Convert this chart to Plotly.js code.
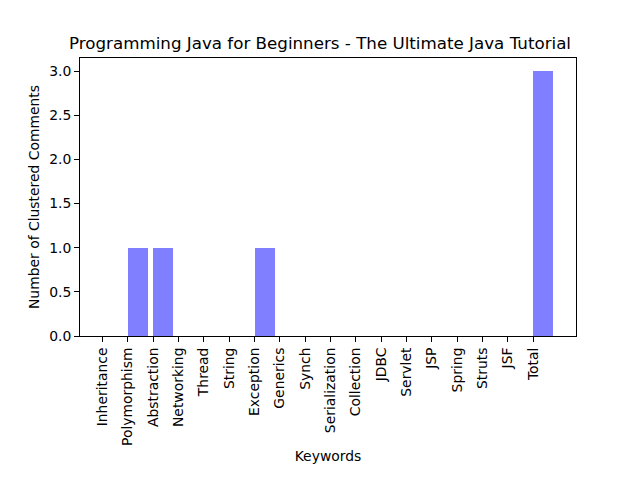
<!DOCTYPE html>
<html><head><meta charset="utf-8">
<script src="https://cdn.plot.ly/plotly-3.0.1.min.js"></script>
<style>body{margin:0;padding:0;} #chart{width:640px;height:480px;}</style>
</head><body><div id="chart"></div>
<script>
const categories = ["Inheritance","Polymorphism","Abstraction","Networking","Thread","String","Exception","Generics","Synch","Serialization","Collection","JDBC","Servlet","JSP","Spring","Struts","JSF","Total"];
const counts = [0,1,1,0,0,0,1,0,0,0,0,0,0,0,0,0,0,3];
const positions = categories.map((c,i)=>i);

const font = {family:"DejaVu Sans", size:13.9, color:"#000"};
const trace = {
  type:"bar", x:positions, y:counts, width:0.8, offset:0,
  marker:{color:"rgba(0,0,255,0.5)", line:{width:0}},
  hoverinfo:"x+y"
};
const layout = {
  width:640, height:480,
  margin:{l:80, r:64, t:58, b:144, pad:0},
  paper_bgcolor:"#fff", plot_bgcolor:"#fff",
  font:font,
  showlegend:false,
  title:{text:"Programming Java for Beginners - The Ultimate Java Tutorial", font:{family:"DejaVu Sans", size:16.7, color:"#000"}, x:0.5, xanchor:"center", y:1-43/480, yanchor:"middle"},
  xaxis:{
    range:[-0.89, 18.69], tickmode:"array", tickvals:positions, ticktext:categories, tickangle:-90,
    ticks:"outside", ticklen:5, tickwidth:1, tickcolor:"#000",
    showline:true, linecolor:"#000", linewidth:1, mirror:true, showgrid:false, zeroline:false,
    automargin:false, tickfont:font,
    title:{text:"Keywords", font:font, standoff:6}
  },
  yaxis:{
    range:[0, 3.15], tickvals:[0,0.5,1,1.5,2,2.5,3], ticktext:["0.0","0.5","1.0","1.5","2.0","2.5","3.0"],
    ticks:"outside", ticklen:5, tickwidth:1, tickcolor:"#000",
    showline:true, linecolor:"#000", linewidth:1, mirror:true, showgrid:false, zeroline:false,
    automargin:false, tickfont:font,
    title:{text:"Number of Clustered Comments", font:font, standoff:6}
  },
  bargap:0
};
Plotly.newPlot("chart",[trace],layout,{staticPlot:true});
</script></body></html>
